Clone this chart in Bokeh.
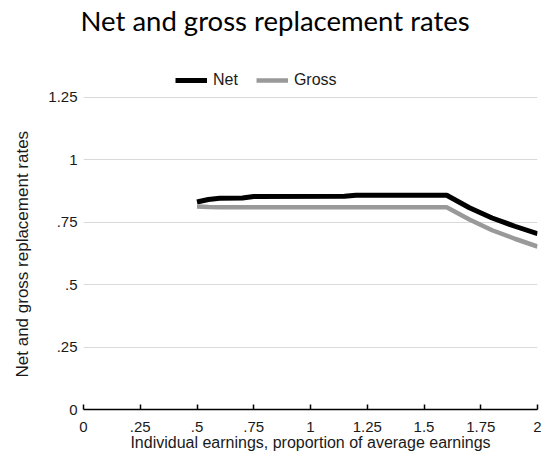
from bokeh.plotting import figure
from bokeh.models import Legend, LegendItem, FixedTicker, Range1d, Title
from bokeh.embed import file_html
from bokeh.resources import INLINE

# ---- data ----
earnings = [0.5, 0.55, 0.6, 0.7, 0.75, 1.15, 1.2, 1.6, 1.7, 1.8, 1.9, 2.0]
net_rate = [0.830, 0.840, 0.845, 0.846, 0.852, 0.853, 0.857, 0.857, 0.807, 0.766, 0.733, 0.703]
gross_rate = [0.812, 0.810, 0.809, 0.809, 0.809, 0.809, 0.809, 0.809, 0.760, 0.717, 0.683, 0.652]

x_ticks = [0, 0.25, 0.5, 0.75, 1, 1.25, 1.5, 1.75, 2]
x_tick_labels = ["0", ".25", ".5", ".75", "1", "1.25", "1.5", "1.75", "2"]
y_ticks = [0, 0.25, 0.5, 0.75, 1, 1.25]
y_tick_labels = ["0", ".25", ".5", ".75", "1", "1.25"]

title_text = "Net and gross replacement rates"
x_label = "Individual earnings, proportion of average earnings"
y_label = "Net and gross replacement rates"

AX_FONT = "Liberation Sans"
TXT = "#1a1a1a"

# frame extends above 1.25 to leave room for the legend inside it
p = figure(width=541, height=454, output_backend="svg", toolbar_location=None,
           x_range=Range1d(0, 2), y_range=Range1d(0, 1.488),
           min_border_left=83, min_border_right=4, min_border_top=37, min_border_bottom=45)
p.outline_line_color = None
p.background_fill_color = "white"
p.border_fill_color = "white"

# title
p.title.text = title_text
p.title.text_font = "Lato"
p.title.text_font_size = "27.5px"
p.title.text_font_style = "normal"
p.title.text_color = "black"
p.title.align = "left"
p.title.vertical_align = "bottom"
p.title.offset = -3
p.title.standoff = 2

# axes
xa = p.xaxis[0]
xa.ticker = FixedTicker(ticks=x_ticks)
xa.major_label_overrides = {t: l for t, l in zip(x_ticks, x_tick_labels)}
xa.axis_line_color = "black"
xa.axis_line_width = 1.5
xa.major_tick_line_color = "black"
xa.major_tick_line_width = 1.5
xa.major_tick_in = 5
xa.major_tick_out = 0
xa.minor_tick_line_color = None
xa.major_label_standoff = 12
xa.major_label_text_font = AX_FONT
xa.major_label_text_font_size = "15px"
xa.major_label_text_color = TXT

xtitle = Title(text=x_label, align="center", vertical_align="top", standoff=-2,
               text_font=AX_FONT, text_font_size="16px", text_font_style="normal",
               text_color=TXT)
p.add_layout(xtitle, "below")

ya = p.yaxis[0]
ya.ticker = FixedTicker(ticks=y_ticks)
ya.major_label_overrides = {t: l for t, l in zip(y_ticks, y_tick_labels)}
ya.axis_line_color = None
ya.major_tick_line_color = None
ya.major_tick_out = 0
ya.major_tick_in = 0
ya.minor_tick_line_color = None
ya.major_label_standoff = 6
ya.major_label_text_font = AX_FONT
ya.major_label_text_font_size = "15px"
ya.major_label_text_color = TXT

# y axis title, positioned along the 0..1.25 part of the frame
ytitle = Title(text=y_label, align="left", vertical_align="top", offset=32, standoff=24,
               text_font=AX_FONT, text_font_size="17px", text_font_style="normal",
               text_color=TXT)
p.add_layout(ytitle, "left")

p.xgrid.grid_line_color = None
p.ygrid.ticker = FixedTicker(ticks=y_ticks)
p.ygrid.grid_line_color = "#d9d9d9"
p.ygrid.grid_line_width = 1

net = p.line(earnings, net_rate, line_color="black", line_width=5, line_cap="butt")
gross = p.line(earnings, gross_rate, line_color="#999999", line_width=4.5, line_cap="butt")

legend = Legend(items=[LegendItem(label="Net", renderers=[net]),
                       LegendItem(label="Gross", renderers=[gross])],
                location=(92, 320), orientation="horizontal",
                padding=0, margin=0, spacing=18, label_standoff=6,
                glyph_width=32, glyph_height=10,
                border_line_color=None, background_fill_alpha=0,
                label_text_font=AX_FONT, label_text_font_size="16px",
                label_text_color=TXT)
p.add_layout(legend, "center")

open("out.html", "w").write(file_html(p, INLINE))
